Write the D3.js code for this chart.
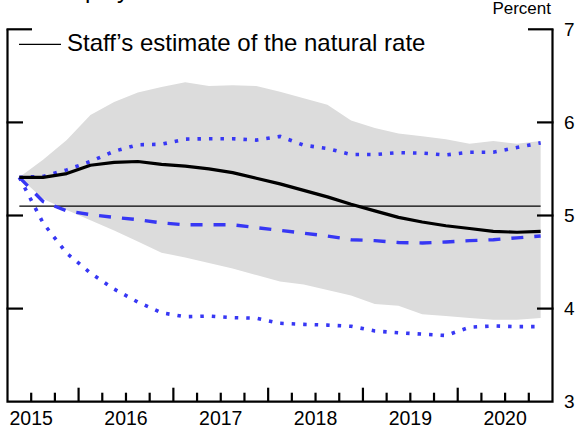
<!DOCTYPE html>
<html>
<head>
<meta charset="utf-8">
<script src="https://cdn.jsdelivr.net/npm/d3@7"></script>
<style>
  html, body { margin: 0; padding: 0; background: #fff; }
  svg { display: block; }
  text { font-family: "Liberation Sans", Arial, Helvetica, sans-serif; fill: #000; }
</style>
</head>
<body>
<svg id="chart" width="576" height="428"></svg>
<script>
// Quarterly horizon, plotted at the middle of each quarter
const quarters = ["2015Q2","2015Q3","2015Q4","2016Q1","2016Q2","2016Q3","2016Q4",
  "2017Q1","2017Q2","2017Q3","2017Q4","2018Q1","2018Q2","2018Q3","2018Q4",
  "2019Q1","2019Q2","2019Q3","2019Q4","2020Q1","2020Q2","2020Q3","2020Q4"];

// Staff projection of the unemployment rate (percent)
const projection = [5.41,5.41,5.45,5.54,5.57,5.58,5.55,5.53,5.50,5.46,5.40,5.34,
  5.27,5.20,5.12,5.05,4.98,4.93,4.89,4.86,4.83,4.82,4.83];

// Shaded confidence band
const bandUpper = [5.41,5.60,5.81,6.08,6.22,6.32,6.38,6.43,6.39,6.40,6.39,6.33,
  6.26,6.19,6.02,5.94,5.88,5.85,5.82,5.77,5.80,5.77,5.80];
const bandLower = [5.41,5.18,5.06,4.95,4.84,4.72,4.60,4.55,4.49,4.43,4.36,4.29,
  4.26,4.20,4.14,4.05,4.03,3.94,3.92,3.90,3.88,3.88,3.90];

// Alternative paths
const altDashed = [5.41,5.15,5.05,5.01,4.98,4.955,4.92,4.90,4.90,4.90,4.87,4.84,
  4.81,4.78,4.74,4.73,4.71,4.705,4.715,4.73,4.74,4.76,4.78];
const altDottedHigh = [5.41,5.42,5.49,5.58,5.69,5.76,5.765,5.82,5.825,5.825,5.81,5.85,
  5.755,5.72,5.655,5.655,5.675,5.67,5.65,5.68,5.68,5.73,5.78];
const altDottedLow = [5.41,4.92,4.594,4.383,4.21,4.07,3.955,3.913,3.92,3.903,3.897,3.842,
  3.831,3.823,3.81,3.76,3.74,3.726,3.711,3.80,3.814,3.806,3.806];

// Natural rate of unemployment
const naturalRate = 5.1;

// Axis labels
const yearLabels = ["2015","2016","2017","2018","2019","2020"];
const yTickValues = [3, 4, 5, 6, 7];

const svg = d3.select("#chart");

const toYear = q => +q.slice(0, 4) + (+q.slice(5) - 1) * 0.25 + 0.125;
const times = quarters.map(toYear);

const x = d3.scaleLinear().domain([2015.25, 2021]).range([7.5, 552.5]);
const y = d3.scaleLinear().domain([3, 7]).range([401.7, 29.3]);

const blue = "#3737f4";

// Confidence band
const band = d3.area()
  .x((d, i) => x(times[i]))
  .y0((d, i) => y(bandLower[i]))
  .y1(d => y(d));
svg.append("path")
  .attr("d", band(bandUpper))
  .attr("fill", "#dcdcdc");

// Natural rate line
svg.append("line")
  .attr("x1", x(times[0])).attr("x2", x(times[times.length - 1]))
  .attr("y1", y(naturalRate)).attr("y2", y(naturalRate))
  .attr("stroke", "#000").attr("stroke-width", 1.2);

const line = d3.line().x((d, i) => x(times[i])).y(d => y(d));

svg.append("path").attr("d", line(altDottedLow))
  .attr("fill", "none").attr("stroke", blue).attr("stroke-width", 3.6)
  .attr("stroke-dasharray", "3.5,8");
svg.append("path").attr("d", line(altDottedHigh))
  .attr("fill", "none").attr("stroke", blue).attr("stroke-width", 3.6)
  .attr("stroke-dasharray", "3.5,8");
svg.append("path").attr("d", line(altDashed))
  .attr("fill", "none").attr("stroke", blue).attr("stroke-width", 3.4)
  .attr("stroke-dasharray", "12,11");
svg.append("path").attr("d", line(projection))
  .attr("fill", "none").attr("stroke", "#000").attr("stroke-width", 3.2)
  .attr("stroke-linejoin", "round");

// Frame: left, right and bottom axis lines
const frame = svg.append("g").attr("stroke", "#000").attr("stroke-width", 2.2).attr("fill", "none");
frame.append("path").attr("d",
  `M${x.range()[0]},${y(7)}V${y(3)}H${x.range()[1]}V${y(7)}`);

// Y ticks on both sides, pointing inward
yTickValues.filter(v => v > 3).forEach(v => {
  const len = v === 7 ? 24.5 : 15.5;
  frame.append("line")
    .attr("x1", x.range()[0] - 1).attr("x2", x.range()[0] + len)
    .attr("y1", y(v)).attr("y2", y(v));
  frame.append("line")
    .attr("x1", x.range()[1] + 1).attr("x2", x.range()[1] - len)
    .attr("y1", y(v)).attr("y2", y(v));
});

// Right-side tick labels
svg.append("g").selectAll("text").data(yTickValues).join("text")
  .attr("x", 564).attr("y", d => y(d))
  .attr("dy", "0.35em")
  .style("font-size", "19px")
  .text(d => d);

// Quarterly x ticks pointing up; taller at year boundaries
const xTicks = d3.range(2015.5, 2021, 0.25);
frame.selectAll("line.xt").data(xTicks).join("line")
  .attr("class", "xt")
  .attr("x1", d => x(d)).attr("x2", d => x(d))
  .attr("y1", y(3))
  .attr("y2", d => y(3) - (Math.abs(d - Math.round(d)) < 1e-9 ? 14 : 9));

// Year labels centred at mid-year
svg.append("g").selectAll("text").data(yearLabels).join("text")
  .attr("x", d => x(+d + 0.5)).attr("y", 425)
  .attr("text-anchor", "middle")
  .style("font-size", "19.5px")
  .text(d => d);

// Units label
svg.append("text")
  .attr("x", 551).attr("y", 14)
  .attr("text-anchor", "end")
  .style("font-size", "17px")
  .text("Percent");

// Title (runs off the top edge)
svg.append("text")
  .attr("x", 21).attr("y", -2)
  .style("font-size", "24px")
  .text("Unemployment Rate");

// Legend
svg.append("line")
  .attr("x1", 19).attr("x2", 61).attr("y1", 44.3).attr("y2", 44.3)
  .attr("stroke", "#000").attr("stroke-width", 1.2);
svg.append("text")
  .attr("x", 67).attr("y", 50.5)
  .style("font-size", "24px")
  .text("Staff\u2019s estimate of the natural rate");
</script>
</body>
</html>
